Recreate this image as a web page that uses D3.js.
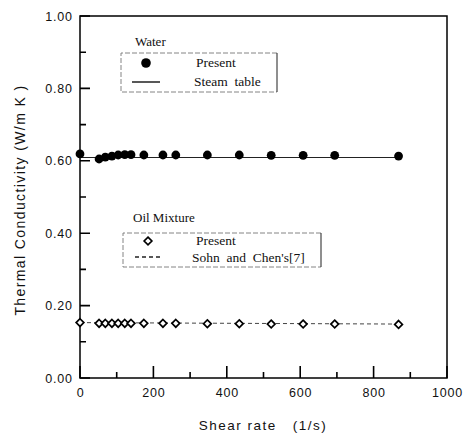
<!DOCTYPE html>
<html>
<head>
<meta charset="utf-8">
<script src="https://cdn.jsdelivr.net/npm/d3@7"></script>
<style>
  html, body { margin: 0; padding: 0; background: #fff; }
  svg { display: block; }
</style>
</head>
<body>
<svg id="chart" width="463" height="434"></svg>
<script>
// ---- data ----
const shearRate = [0, 52, 69, 87, 104, 122, 139, 174, 226, 261, 347, 434, 521, 608, 694, 868];
const waterPresent = [0.619, 0.605, 0.610, 0.613, 0.616, 0.617, 0.617, 0.616, 0.616, 0.616, 0.616, 0.616, 0.615, 0.615, 0.615, 0.613];
const oilPresent = [0.153, 0.151, 0.151, 0.151, 0.151, 0.151, 0.151, 0.151, 0.151, 0.151, 0.150, 0.150, 0.149, 0.149, 0.149, 0.148];
const steamX = [0, 868];
const steamTable = [0.609, 0.609];
const sohnX = [0, 868];
const sohnChen = [0.153, 0.149];
const xMajorTicks = [0, 200, 400, 600, 800, 1000];
const xMinorTicks = [100, 300, 500, 700, 900];
const yMajorTicks = [0, 0.2, 0.4, 0.6, 0.8, 1.0];
const yMinorTicks = [0.1, 0.3, 0.5, 0.7, 0.9];
const xTitle = "Shear rate   (1/s)";
const yTitle = "Thermal Conductivity (W/m K )";

// ---- layout ----
const svg = d3.select("#chart");
const L = 80, R = 447, T = 16, B = 378;
const x = d3.scaleLinear().domain([0, 1000]).range([L, R]);
const y = d3.scaleLinear().domain([0, 1]).range([B, T]);
const sans = "Arial, 'Liberation Sans', Helvetica, sans-serif";
const serif = "'Times New Roman', 'Liberation Serif', Times, serif";

svg.append("rect").attr("width", 463).attr("height", 434).attr("fill", "#fff");

// axes (labels from d3 axes, tick marks drawn inward)
const xAxis = svg.append("g").attr("transform", `translate(0,${B})`)
  .call(d3.axisBottom(x).tickValues(xMajorTicks).tickSize(0).tickPadding(10).tickFormat(d3.format("d")));
const yAxis = svg.append("g").attr("transform", `translate(${L},0)`)
  .call(d3.axisLeft(y).tickValues(yMajorTicks).tickSize(0).tickPadding(8).tickFormat(d3.format(".2f")));
[xAxis, yAxis].forEach(g => {
  g.select(".domain").remove();
  g.selectAll(".tick line").remove();
  g.selectAll(".tick text").attr("fill", "#111").style("font-family", sans)
    .style("font-size", "12.5px").style("letter-spacing", "0.8px");
});
yAxis.selectAll(".tick text").attr("dx", "0.8px");

// inward tick marks
const xTickPath = xMajorTicks.map(d => `M${x(d)},${B}V${B - 12}`).join("")
  + xMinorTicks.map(d => `M${x(d)},${B}V${B - 6}`).join("");
const yTickPath = yMajorTicks.map(d => `M${L},${y(d)}H${L + 10}`).join("")
  + yMinorTicks.map(d => `M${L},${y(d)}H${L + 6}`).join("");
svg.append("path").attr("d", xTickPath + yTickPath)
  .attr("fill", "none").attr("stroke", "#000").attr("stroke-width", 1.6);

// frame
svg.append("rect").attr("x", L).attr("y", T).attr("width", R - L).attr("height", B - T)
  .attr("fill", "none").attr("stroke", "#000").attr("stroke-width", 1.5);

// titles
svg.append("text").attr("x", 263).attr("y", 430).attr("text-anchor", "middle")
  .style("font-family", sans).style("font-size", "13.5px").style("letter-spacing", "1.5px")
  .style("white-space", "pre").attr("fill", "#111").text(xTitle);
svg.append("text").attr("transform", `translate(25,${200}) rotate(-90)`).attr("text-anchor", "middle")
  .style("font-family", sans).style("font-size", "14px").style("letter-spacing", "1.4px")
  .style("white-space", "pre").attr("fill", "#111").text(yTitle);

// lines
const line = d3.line().x(d => x(d[0])).y(d => y(d[1]));
svg.append("path").datum(d3.zip(steamX, steamTable)).attr("d", line)
  .attr("fill", "none").attr("stroke", "#222").attr("stroke-width", 1.1);
svg.append("path").datum(d3.zip(sohnX, sohnChen)).attr("d", line)
  .attr("fill", "none").attr("stroke", "#444").attr("stroke-width", 1).attr("stroke-dasharray", "4,3");

// water points
svg.append("g").selectAll("circle").data(d3.zip(shearRate, waterPresent)).join("circle")
  .attr("cx", d => x(d[0])).attr("cy", d => y(d[1])).attr("r", 4.4).attr("fill", "#000");

// oil points (diamonds)
const diamond = d3.symbol().type(d3.symbolDiamond2).size(38);
svg.append("g").selectAll("path").data(d3.zip(shearRate, oilPresent)).join("path")
  .attr("transform", d => `translate(${x(d[0])},${y(d[1])})`).attr("d", diamond)
  .attr("fill", "#fff").attr("stroke", "#000").attr("stroke-width", 1.7);

// legends
function legendBox(x0, y0, x1, y1) {
  const g = svg.append("g");
  g.append("path").attr("d", `M${x1},${y0}H${x0}V${y1}H${x1}`).attr("fill", "none")
    .attr("stroke", "#777").attr("stroke-width", 0.9).attr("stroke-dasharray", "5,2");
  g.append("line").attr("x1", x1).attr("x2", x1).attr("y1", y0).attr("y2", y1)
    .attr("stroke", "#333").attr("stroke-width", 1.1);
}
function txt(xp, yp, s, size) {
  svg.append("text").attr("x", xp).attr("y", yp).style("font-family", serif)
    .style("font-size", size + "px").style("white-space", "pre").attr("fill", "#111").text(s);
}
// Water legend
txt(135, 46, "Water", 13);
legendBox(121, 53, 277, 92);
svg.append("circle").attr("cx", 146).attr("cy", 63).attr("r", 4.8).attr("fill", "#000");
txt(196, 67, "Present", 13.5);
svg.append("line").attr("x1", 132).attr("x2", 160).attr("y1", 82).attr("y2", 82)
  .attr("stroke", "#111").attr("stroke-width", 1.4);
txt(194, 86, "Steam  table", 13.5);

// Oil legend
txt(133, 222, "Oil Mixture", 13);
legendBox(123, 233, 321, 267);
svg.append("path").attr("transform", "translate(148,241)").attr("d", diamond)
  .attr("fill", "#fff").attr("stroke", "#000").attr("stroke-width", 1.7);
txt(196, 245, "Present", 13.5);
svg.append("line").attr("x1", 135).attr("x2", 163).attr("y1", 257).attr("y2", 257)
  .attr("stroke", "#222").attr("stroke-width", 1.3).attr("stroke-dasharray", "4,3");
txt(192, 262, "Sohn  and  Chen's[7]", 13.5);
</script>
</body>
</html>
